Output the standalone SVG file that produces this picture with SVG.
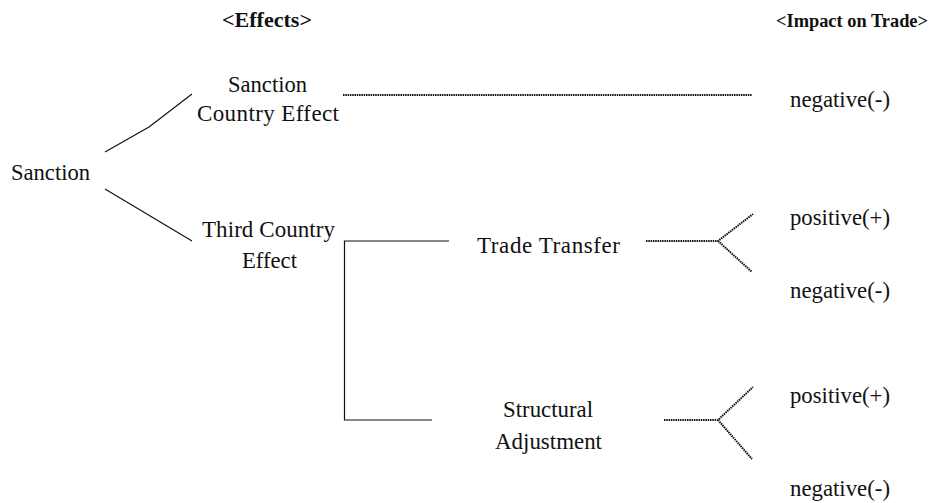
<svg xmlns="http://www.w3.org/2000/svg" width="934" height="503" viewBox="0 0 934 503">
<style>
.t{font-family:"Liberation Serif","Times New Roman",serif;font-size:23px;fill:#111}
.h{font-family:"Liberation Serif","Times New Roman",serif;font-size:21px;font-weight:bold;fill:#111}
.s{fill:none;stroke:#111;stroke-width:1.2}
.d{fill:none;stroke:#111;stroke-width:2;stroke-dasharray:1.5 0.8}
</style>
<rect width="934" height="503" fill="#fff"/>
<g id="headers">
<text class="h" x="222" y="27" textLength="90" lengthAdjust="spacingAndGlyphs">&lt;Effects&gt;</text>
<text class="h" x="776" y="27" textLength="152" lengthAdjust="spacingAndGlyphs" style="font-size:18.5px">&lt;Impact on Trade&gt;</text>
</g>
<g id="sanction"><text class="t" x="11" y="180" textLength="79" lengthAdjust="spacingAndGlyphs">Sanction</text></g>
<g id="sanction-country-effect">
<text class="t" x="228" y="92" textLength="79" lengthAdjust="spacingAndGlyphs">Sanction</text>
<text class="t" x="197" y="121" textLength="142" lengthAdjust="spacing">Country Effect</text>
</g>
<g id="third-country-effect">
<text class="t" x="202" y="237" textLength="133" lengthAdjust="spacing">Third Country</text>
<text class="t" x="242" y="268" textLength="55" lengthAdjust="spacingAndGlyphs">Effect</text>
</g>
<g id="trade-transfer"><text class="t" x="477" y="253" textLength="143" lengthAdjust="spacing">Trade Transfer</text></g>
<g id="structural-adjustment">
<text class="t" x="503" y="417" textLength="90" lengthAdjust="spacingAndGlyphs">Structural</text>
<text class="t" x="495" y="449" textLength="107" lengthAdjust="spacingAndGlyphs">Adjustment</text>
</g>
<g id="impact-sanction-negative"><text class="t" x="790" y="107" textLength="100" lengthAdjust="spacingAndGlyphs">negative(-)</text></g>
<g id="impact-transfer-positive"><text class="t" x="790" y="225" textLength="100" lengthAdjust="spacingAndGlyphs">positive(+)</text></g>
<g id="impact-transfer-negative"><text class="t" x="790" y="298" textLength="100" lengthAdjust="spacingAndGlyphs">negative(-)</text></g>
<g id="impact-structural-positive"><text class="t" x="790" y="403" textLength="100" lengthAdjust="spacingAndGlyphs">positive(+)</text></g>
<g id="impact-structural-negative"><text class="t" x="790" y="496" textLength="100" lengthAdjust="spacingAndGlyphs">negative(-)</text></g>
<g id="connectors">
<polyline class="s" points="105,152 149,127 192,94"/>
<line class="s" x1="105" y1="189" x2="192" y2="241"/>
<polyline class="s" points="449,241 344.5,241 344.5,420 432,420"/>
<line class="d" x1="343" y1="95" x2="752" y2="95"/>
<polyline class="d" points="646,241 718,241 753,214"/>
<line class="d" x1="718" y1="241" x2="752" y2="272"/>
<polyline class="d" points="664,420 718,420 753,387"/>
<line class="d" x1="718" y1="420" x2="752" y2="459"/>
</g>
</svg>
